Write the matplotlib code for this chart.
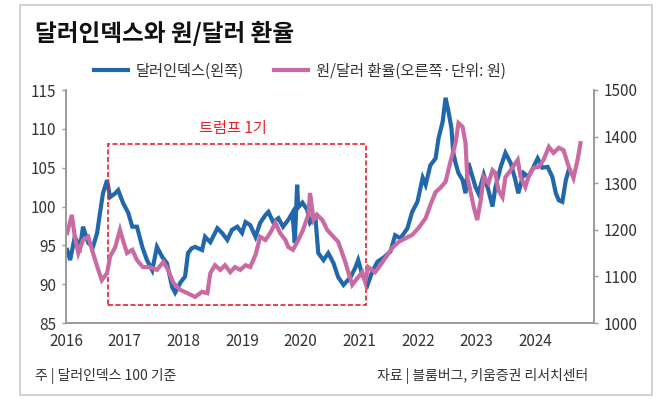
import matplotlib
matplotlib.use('Agg')
import matplotlib.pyplot as plt
from matplotlib.patches import Rectangle

plt.rcParams['font.family'] = ['Noto Sans CJK KR', 'DejaVu Sans']

# 달러인덱스 (왼쪽 축)
dxy_x = [2016.02, 2016.07, 2016.15, 2016.24, 2016.29, 2016.38, 2016.46, 2016.53, 2016.58, 2016.63,
         2016.70, 2016.75, 2016.84, 2016.89, 2016.97, 2017.06, 2017.13, 2017.21, 2017.30, 2017.38,
         2017.47, 2017.55, 2017.64, 2017.72, 2017.81, 2017.86, 2017.95, 2018.03, 2018.08, 2018.14,
         2018.20, 2018.32, 2018.37, 2018.46, 2018.58, 2018.66, 2018.75, 2018.83, 2018.92, 2019.00,
         2019.06, 2019.14, 2019.23, 2019.31, 2019.40, 2019.45, 2019.53, 2019.62, 2019.70, 2019.79,
         2019.86, 2019.90, 2019.94, 2019.96, 2020.03, 2020.11, 2020.16, 2020.25, 2020.30, 2020.39,
         2020.47, 2020.56, 2020.64, 2020.73, 2020.85, 2020.93, 2020.98, 2021.05, 2021.14,
         2021.22, 2021.31, 2021.41, 2021.53, 2021.61, 2021.70, 2021.82, 2021.90, 2021.99, 2022.08,
         2022.13, 2022.21, 2022.30, 2022.35, 2022.42, 2022.47, 2022.52, 2022.57, 2022.60, 2022.64,
         2022.69, 2022.76, 2022.81, 2022.86, 2022.93, 2022.98, 2023.03, 2023.12, 2023.20, 2023.27,
         2023.32, 2023.41, 2023.49, 2023.58, 2023.66, 2023.71, 2023.80, 2023.88, 2023.97, 2024.04,
         2024.12, 2024.21, 2024.29, 2024.35, 2024.40, 2024.46, 2024.52, 2024.57]
dxy_y = [94.4, 93.1, 96.1, 94.8, 97.4, 95.3, 94.8, 96.6, 99.2, 101.7,
         103.4, 101.2, 101.7, 102.1, 100.5, 99.2, 97.4, 97.4, 94.8, 93.1,
         91.8, 94.8, 93.5, 92.7, 89.6, 88.9, 90.2, 91.0, 94.0, 94.6,
         94.8, 94.4, 96.1, 95.4, 97.2, 96.6, 95.7, 97.0, 97.4, 96.6,
         98.0, 97.6, 96.1, 97.9, 98.9, 99.3, 98.0, 98.5, 97.4, 98.3,
         99.2, 95.3, 102.8, 99.9, 100.5, 99.6, 97.9, 98.7, 94.0, 93.1,
         94.0, 92.7, 90.9, 89.9, 90.9, 92.1, 93.1, 91.2, 89.9,
         91.6, 92.9, 93.4, 94.2, 96.3, 95.9, 97.2, 99.3, 100.6, 103.7,
         102.8, 105.3, 106.2, 108.8, 110.9, 114.0, 112.2, 110.1, 107.0, 105.6,
         104.3, 103.4, 101.7, 105.6, 103.8, 102.5, 101.7, 104.1, 102.1, 100.0,
         102.5, 105.1, 106.9, 105.6, 103.4, 101.7, 104.3, 103.8, 105.1, 106.2,
         105.0, 105.1, 103.8, 101.7, 100.8, 100.6, 103.4, 104.7]

# 원/달러 환율 (오른쪽 축, 원)
krw_x = [2016.02, 2016.10, 2016.15, 2016.21, 2016.29, 2016.38, 2016.46, 2016.55, 2016.61, 2016.70,
         2016.75, 2016.84, 2016.92, 2016.97, 2017.04, 2017.13, 2017.21, 2017.31, 2017.43, 2017.55,
         2017.66, 2017.74, 2017.83, 2017.95, 2018.07, 2018.20, 2018.32, 2018.41, 2018.46, 2018.54,
         2018.63, 2018.71, 2018.80, 2018.88, 2018.97, 2019.06, 2019.14, 2019.23, 2019.31, 2019.40,
         2019.48, 2019.57, 2019.65, 2019.74, 2019.79, 2019.87, 2019.96, 2020.04, 2020.13, 2020.16,
         2020.22, 2020.28, 2020.37, 2020.45, 2020.56, 2020.64, 2020.68, 2020.76, 2020.80, 2020.88,
         2020.97, 2021.05, 2021.10, 2021.15,
         2021.27, 2021.36, 2021.44, 2021.56, 2021.67, 2021.79, 2021.90, 2022.01, 2022.13, 2022.21,
         2022.30, 2022.38, 2022.47, 2022.55, 2022.64, 2022.69, 2022.76, 2022.81, 2022.84, 2022.89,
         2022.95, 2023.01, 2023.07, 2023.12, 2023.20, 2023.27, 2023.32, 2023.37, 2023.44, 2023.49,
         2023.58, 2023.70, 2023.75, 2023.83, 2023.88, 2023.97, 2024.06, 2024.14, 2024.23, 2024.31,
         2024.40, 2024.48, 2024.57, 2024.65, 2024.72, 2024.77]
krw_y = [1193, 1232, 1185, 1150, 1178, 1185, 1150, 1114, 1092, 1107,
         1142, 1163, 1200, 1178, 1150, 1157, 1135, 1120, 1120, 1114,
         1131, 1114, 1086, 1071, 1064, 1056, 1067, 1064, 1107, 1124,
         1114, 1124, 1109, 1120, 1114, 1124, 1120, 1146, 1185, 1178,
         1193, 1215, 1193, 1178, 1163, 1157, 1178, 1200, 1232, 1279,
         1221, 1232, 1221, 1200, 1185, 1174, 1160, 1131, 1114, 1082,
         1097, 1109, 1088, 1120,
         1109, 1124, 1139, 1161, 1174, 1182, 1189, 1204, 1225, 1253,
         1281, 1290, 1303, 1345, 1386, 1429, 1421, 1386, 1313, 1285,
         1249, 1221, 1264, 1313, 1300, 1328, 1322, 1285, 1270, 1313,
         1328, 1350, 1313, 1292, 1313, 1333, 1335, 1350, 1378, 1365,
         1376, 1371, 1335, 1311, 1350, 1386]

years = [2016, 2017, 2018, 2019, 2020, 2021, 2022, 2023, 2024]
trump_start, trump_end = 2016.72, 2021.12

blue = '#2167ab'
pink = '#c96aa3'
red = '#e8212b'
grey = '#9a9a9a'
txt = '#333333'

fig = plt.figure(figsize=(6.7, 4.0), dpi=100)
fig.patches.append(Rectangle((20 / 670, 5 / 400), 632 / 670, 390 / 400, transform=fig.transFigure,
                             fill=False, edgecolor='#c8c8c8', lw=1.2))

ax = fig.add_axes([66 / 670, 1 - 323 / 400, 528 / 670, 233 / 400])
ax2 = ax.twinx()

l1, = ax.plot(dxy_x, dxy_y, color=blue, lw=3.0, solid_joinstyle='miter')
l2, = ax2.plot(krw_x, krw_y, color=pink, lw=3.0, solid_joinstyle='miter')

ax.set_xlim(2016, 2025)
ax.set_ylim(85, 115)
ax2.set_ylim(1000, 1500)
ax.set_yticks([85, 90, 95, 100, 105, 110, 115])
ax2.set_yticks([1000, 1100, 1200, 1300, 1400, 1500])
ax.set_xticks(years)
ax.set_xticklabels([str(y) for y in years])

for a in (ax, ax2):
    a.spines['top'].set_visible(False)
    for s in ('left', 'right', 'bottom'):
        a.spines[s].set_color(grey)
        a.spines[s].set_linewidth(1.2)
    a.tick_params(axis='y', length=3, width=1, color=grey, labelsize=11, labelcolor=txt, pad=4)
ax.tick_params(axis='x', length=0, labelsize=11, labelcolor=txt, pad=7)

# 트럼프 1기 박스
ax.add_patch(Rectangle((trump_start, 87.3), trump_end - trump_start, 108.0 - 87.3,
                       fill=False, edgecolor=red, lw=1.2, ls=(0, (3, 1.5)), zorder=5))
ax.text(2018.85, 110.1, '트럼프 1기', color=red, fontsize=11, ha='center', va='center')

fig.text(35 / 670, 1 - 33 / 400, '달러인덱스와 원/달러 환율', fontsize=17, fontweight='bold',
         color='#111111', ha='left', va='center')
fig.legend([l1, l2], ['달러인덱스(왼쪽)', '원/달러 환율(오른쪽·단위: 원)'], ncol=2,
           loc='center', bbox_to_anchor=(300 / 670, 1 - 71 / 400), frameon=False,
           fontsize=11, handlelength=2.2, handletextpad=0.5, columnspacing=2.0,
           labelcolor=txt)

fig.text(35 / 670, 1 - 376 / 400, '주 | 달러인덱스 100 기준', fontsize=10, color=txt,
         ha='left', va='center')
fig.text(588 / 670, 1 - 376 / 400, '자료 | 블룸버그, 키움증권 리서치센터', fontsize=10, color=txt,
         ha='right', va='center')

fig.savefig('out.png', dpi=100)
